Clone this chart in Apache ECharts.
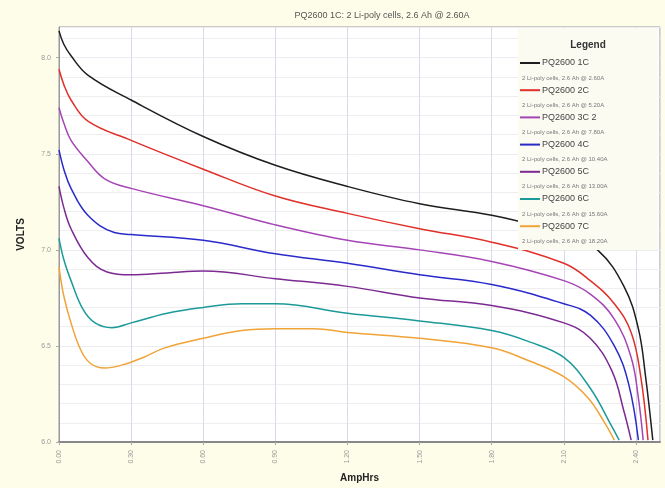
<!DOCTYPE html>
<html>
<head>
<meta charset="utf-8">
<script src="https://cdn.jsdelivr.net/npm/echarts@6/dist/echarts.min.js"></script>
<style>
html,body{margin:0;padding:0;background:#fdfdea;}
#main{width:665px;height:488px;}
</style>
</head>
<body>
<div id="main"></div>
<script>
var myChart = echarts.init(document.getElementById('main'));

// Ah, volts
var s1C=[[0,8.14],[0.02,8.07],[0.05,8.01],[0.12,7.91],[0.3,7.78],[0.6,7.59],[0.9,7.44],[1.2,7.33],[1.5,7.24],[1.8,7.18],[2.0,7.12],[2.12,7.07],[2.24,7.00],[2.35,6.81],[2.41,6.59],[2.44,6.34],[2.47,6.01]];
var s2C=[[0,7.94],[0.02,7.86],[0.05,7.78],[0.12,7.67],[0.3,7.57],[0.6,7.42],[0.9,7.28],[1.2,7.19],[1.5,7.11],[1.8,7.04],[2.1,6.93],[2.21,6.84],[2.31,6.72],[2.38,6.57],[2.42,6.34],[2.45,6.01]];
var s3C2=[[0,7.74],[0.02,7.66],[0.05,7.57],[0.12,7.46],[0.19,7.37],[0.3,7.32],[0.6,7.23],[0.9,7.13],[1.2,7.05],[1.5,7.00],[1.8,6.94],[2.1,6.84],[2.21,6.77],[2.31,6.64],[2.38,6.44],[2.41,6.23],[2.43,6.01]];
var s4C=[[0,7.52],[0.02,7.42],[0.05,7.32],[0.12,7.18],[0.23,7.09],[0.3,7.08],[0.6,7.05],[0.9,6.98],[1.2,6.93],[1.5,6.87],[1.8,6.82],[2.1,6.72],[2.21,6.66],[2.31,6.50],[2.37,6.30],[2.41,6.01]];
var s5C=[[0,7.33],[0.02,7.22],[0.05,7.11],[0.12,6.96],[0.2,6.885],[0.3,6.87],[0.45,6.88],[0.6,6.89],[0.9,6.85],[1.2,6.81],[1.5,6.75],[1.8,6.71],[2.1,6.62],[2.21,6.54],[2.3,6.37],[2.35,6.16],[2.38,6.01]];
var s6C=[[0,7.06],[0.02,6.95],[0.05,6.84],[0.1,6.69],[0.15,6.62],[0.22,6.595],[0.3,6.62],[0.45,6.67],[0.6,6.70],[0.76,6.72],[0.9,6.72],[1.2,6.67],[1.5,6.63],[1.8,6.58],[1.96,6.52],[2.1,6.44],[2.21,6.28],[2.3,6.08],[2.33,6.01]];
var s7C=[[0,6.91],[0.02,6.76],[0.05,6.62],[0.09,6.48],[0.13,6.41],[0.19,6.385],[0.26,6.40],[0.35,6.44],[0.44,6.49],[0.6,6.54],[0.76,6.58],[0.9,6.59],[1.06,6.59],[1.2,6.57],[1.5,6.54],[1.8,6.49],[1.96,6.42],[2.1,6.34],[2.2,6.23],[2.27,6.10],[2.31,6.01]];

var names=['PQ2600 1C','PQ2600 2C','PQ2600 3C 2','PQ2600 4C','PQ2600 5C','PQ2600 6C','PQ2600 7C'];
var descs=['2 Li-poly cells, 2.6 Ah @ 2.60A','2 Li-poly cells, 2.6 Ah @ 5.20A','2 Li-poly cells, 2.6 Ah @ 7.80A','2 Li-poly cells, 2.6 Ah @ 10.40A','2 Li-poly cells, 2.6 Ah @ 13.00A','2 Li-poly cells, 2.6 Ah @ 15.60A','2 Li-poly cells, 2.6 Ah @ 18.20A'];
var colors=['#1e1e1e','#e0302a','#a545b5','#2a2acb','#7c2a92','#1c9a9a','#f0a336'];
var allData=[s1C,s2C,s3C2,s4C,s5C,s6C,s7C];

var series=[];
for(var i=0;i<allData.length;i++){
    series.push({
        name: names[i],
        type: 'line',
        data: allData[i],
        showSymbol: false,
        smooth: 0.4,
        lineStyle: {width: 1.5, color: colors[i]},
        itemStyle: {color: colors[i]},
        z: 2
    });
}

var graphics=[{
    type: 'rect',
    shape: {x: 518, y: 28, width: 140, height: 222},
    style: {fill: '#fbfbf2'},
    z: 3
},{
    type: 'text',
    x: 588, y: 45,
    style: {text: 'Legend', font: 'bold 10px "Liberation Sans", Arial', fill: '#333', align: 'center', verticalAlign: 'middle'},
    z: 5
}];
for(var k=0;k<descs.length;k++){
    graphics.push({
        type: 'text',
        x: 522, y: 78 + k*27.2,
        style: {text: descs[k], font: '6px "Liberation Sans", Arial', fill: '#777', verticalAlign: 'middle'},
        z: 5
    });
}

var option = {
    backgroundColor: '#fdfdea',
    animation: false,
    title: {
        text: 'PQ2600 1C: 2 Li-poly cells, 2.6 Ah @ 2.60A',
        left: 377, top: 6,
        textAlign: 'center',
        textStyle: {fontSize: 9, fontWeight: 'normal', color: '#555', fontFamily: 'Liberation Sans'}
    },
    grid: {
        left: 59, right: 5, top: 27, bottom: 39,
        show: true, backgroundColor: '#ffffff', borderColor: '#999', borderWidth: 1
    },
    legend: {
        data: names,
        orient: 'vertical',
        left: 520, top: 57,
        padding: 0,
        itemWidth: 20, itemHeight: 2,
        itemGap: 15.2,
        icon: 'rect',
        textStyle: {fontSize: 9, lineHeight: 12, color: '#444', fontFamily: 'Liberation Sans', padding: [0,0,0,-3]},
        z: 6
    },
    xAxis: {
        type: 'value',
        min: 0, max: 2.5, interval: 0.3,
        name: 'AmpHrs',
        nameLocation: 'middle',
        nameGap: 31,
        nameTextStyle: {fontSize: 10, fontWeight: 'bold', color: '#222', fontFamily: 'Liberation Sans'},
        axisLine: {lineStyle: {color: '#888', width: 2}},
        axisTick: {show: true, length: 3, lineStyle: {color: '#aaa'}},
        axisLabel: {rotate: 90, fontSize: 7, color: '#999', showMaxLabel: false,
            formatter: function(v){return v.toFixed(2);}},
        splitLine: {show: true, lineStyle: {color: '#d9d9ea', width: 1}}
    },
    yAxis: {
        type: 'value',
        min: 6, max: 8.16, interval: 0.5,
        name: 'VOLTS',
        nameLocation: 'middle',
        nameGap: 33,
        nameTextStyle: {fontSize: 10, fontWeight: 'bold', color: '#222', fontFamily: 'Liberation Sans'},
        axisLine: {show: true, lineStyle: {color: '#999', width: 1}},
        axisTick: {show: true, length: 3, lineStyle: {color: '#aaa'}},
        axisLabel: {fontSize: 7, color: '#999', showMaxLabel: false,
            formatter: function(v){return v.toFixed(1);}},
        splitLine: {show: true, lineStyle: {color: '#ececf2', width: 1}},
        minorTick: {show: false, splitNumber: 5},
        minorSplitLine: {show: true, lineStyle: {color: '#eeeeee', width: 1}}
    },
    graphic: graphics,
    series: series
};
myChart.setOption(option);
</script>
</body>
</html>
